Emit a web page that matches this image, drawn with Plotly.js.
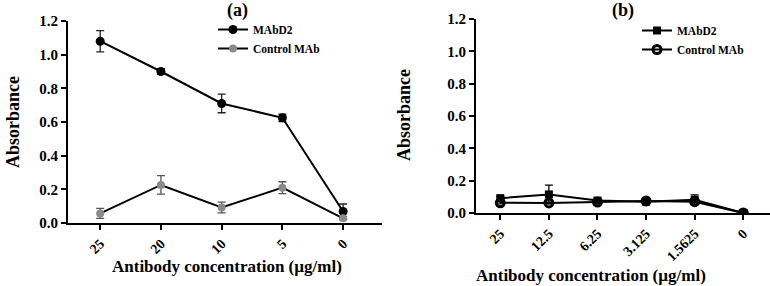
<!DOCTYPE html>
<html><head><meta charset="utf-8">
<script src="https://cdn.plot.ly/plotly-3.0.1.min.js"></script>
<style>html,body{margin:0;padding:0;background:#fff}#c{width:770px;height:286px}</style>
</head><body><div id="c"></div>
<script>
const catsA = ["25","20","10","5","0"];
const mabA = [1.08, 0.90, 0.71, 0.625, 0.068];
const mabAErr = [0.063, 0.017, 0.055, 0.022, 0.045];
const ctrlA = [0.057, 0.226, 0.092, 0.21, 0.028];
const ctrlAErr = [0.03, 0.055, 0.032, 0.035, 0.01];

const catsB = ["25","12.5","6.25","3.125","1.5625","0"];
const mabB = [0.092, 0.115, 0.077, 0.07, 0.082, 0.0];
const mabBErr = [0.01, 0.057, 0.008, 0.006, 0.03, 0.004];
const ctrlB = [0.063, 0.062, 0.068, 0.075, 0.07, 0.0];
const ctrlBErr = [0.006, 0.005, 0.005, 0.004, 0.005, 0.003];

const F = "Liberation Serif, Times New Roman, serif";
const W = 770, H = 286;

const traces = [
  {x: catsA, y: mabA, name: "MAbD2", type: "scatter", mode: "lines+markers",
   xaxis: "x", yaxis: "y", legend: "legend",
   line: {color: "#000", width: 2}, marker: {color: "#000", size: 9, symbol: "circle"},
   error_y: {type: "data", array: mabAErr, visible: true, color: "#222", thickness: 1.3, width: 4}},
  {x: catsA, y: ctrlA, name: "Control MAb", type: "scatter", mode: "lines+markers",
   xaxis: "x", yaxis: "y", legend: "legend",
   line: {color: "#000", width: 2}, marker: {color: "#8a8a8a", size: 8, symbol: "circle"},
   error_y: {type: "data", array: ctrlAErr, visible: true, color: "#555", thickness: 1.3, width: 4}},
  {x: catsB, y: mabB, name: "MAbD2", type: "scatter", mode: "lines+markers",
   xaxis: "x2", yaxis: "y2", legend: "legend2",
   line: {color: "#000", width: 2}, marker: {color: "#000", size: 8, symbol: "square"},
   error_y: {type: "data", array: mabBErr, visible: true, color: "#000", thickness: 1.3, width: 4}},
  {x: catsB, y: ctrlB, name: "Control MAb", type: "scatter", mode: "lines+markers",
   xaxis: "x2", yaxis: "y2", legend: "legend2",
   line: {color: "#000", width: 2}, marker: {color: "#000", size: 8, symbol: "circle-open", line: {width: 3, color: "#000"}},
   error_y: {type: "data", array: ctrlBErr, visible: true, color: "#000", thickness: 1.3, width: 4}}
];

const axY = {range: [0, 1.2], dtick: 0.2, tickformat: ".1f", showgrid: false, zeroline: false,
  showline: true, linecolor: "#000", linewidth: 2, ticks: "outside", ticklen: 5, tickwidth: 2, tickcolor: "#000",
  tickfont: {family: F, size: 15, color: "#000", weight: "bold"}};
const axX = {type: "category", showgrid: false, zeroline: false, showline: true, linecolor: "#000", linewidth: 2,
  ticks: "outside", ticklen: 5, tickwidth: 2, tickcolor: "#000", tickangle: -45,
  tickfont: {family: F, size: 14, color: "#000", weight: "bold"}};

const legFont = {family: F, size: 11.5, color: "#000", weight: "bold"};

const layout = {
  width: W, height: H, margin: {l: 0, r: 0, t: 0, b: 0},
  paper_bgcolor: "#fff", plot_bgcolor: "#fff",
  xaxis: Object.assign({}, axX, {domain: [68/W, 382/W], range: [-0.53, 4.64], anchor: "y"}),
  yaxis: Object.assign({}, axY, {domain: [1-223/H, 1-21/H], anchor: "x"}),
  xaxis2: Object.assign({}, axX, {domain: [476/W, 1], range: [-0.5, 5.55], anchor: "y2"}),
  yaxis2: Object.assign({}, axY, {domain: [1-213/H, 1-19/H], anchor: "x2"}),
  legend: {x: 213/W, y: 1-15/H, xanchor: "left", yanchor: "top", bgcolor: "rgba(0,0,0,0)",
    font: legFont, tracegroupgap: 0, itemwidth: 30},
  legend2: {x: 637/W, y: 1-16/H, xanchor: "left", yanchor: "top", bgcolor: "rgba(0,0,0,0)",
    font: legFont, tracegroupgap: 0, itemwidth: 30},
  annotations: [
    {text: "(a)", x: 237/W, y: 1-11/H, xref: "paper", yref: "paper", showarrow: false, xanchor: "center", yanchor: "middle",
     font: {family: F, size: 18, color: "#000", weight: "bold"}},
    {text: "(b)", x: 623/W, y: 1-10/H, xref: "paper", yref: "paper", showarrow: false, xanchor: "center", yanchor: "middle",
     font: {family: F, size: 18, color: "#000", weight: "bold"}},
    {text: "Absorbance", x: 13/W, y: 1-122/H, xref: "paper", yref: "paper", showarrow: false, textangle: -90,
     xanchor: "center", yanchor: "middle", font: {family: F, size: 18, color: "#000", weight: "bold"}},
    {text: "Absorbance", x: 404/W, y: 1-115/H, xref: "paper", yref: "paper", showarrow: false, textangle: -90,
     xanchor: "center", yanchor: "middle", font: {family: F, size: 18, color: "#000", weight: "bold"}},
    {text: "Antibody concentration (µg/ml)", x: 227/W, y: 1-266/H, xref: "paper", yref: "paper", showarrow: false,
     xanchor: "center", yanchor: "middle", font: {family: F, size: 17, color: "#000", weight: "bold"}},
    {text: "Antibody concentration (µg/ml)", x: 591/W, y: 1-275/H, xref: "paper", yref: "paper", showarrow: false,
     xanchor: "center", yanchor: "middle", font: {family: F, size: 17, color: "#000", weight: "bold"}}
  ]
};

Plotly.newPlot("c", traces, layout, {displayModeBar: false, staticPlot: true});
</script>
</body></html>
